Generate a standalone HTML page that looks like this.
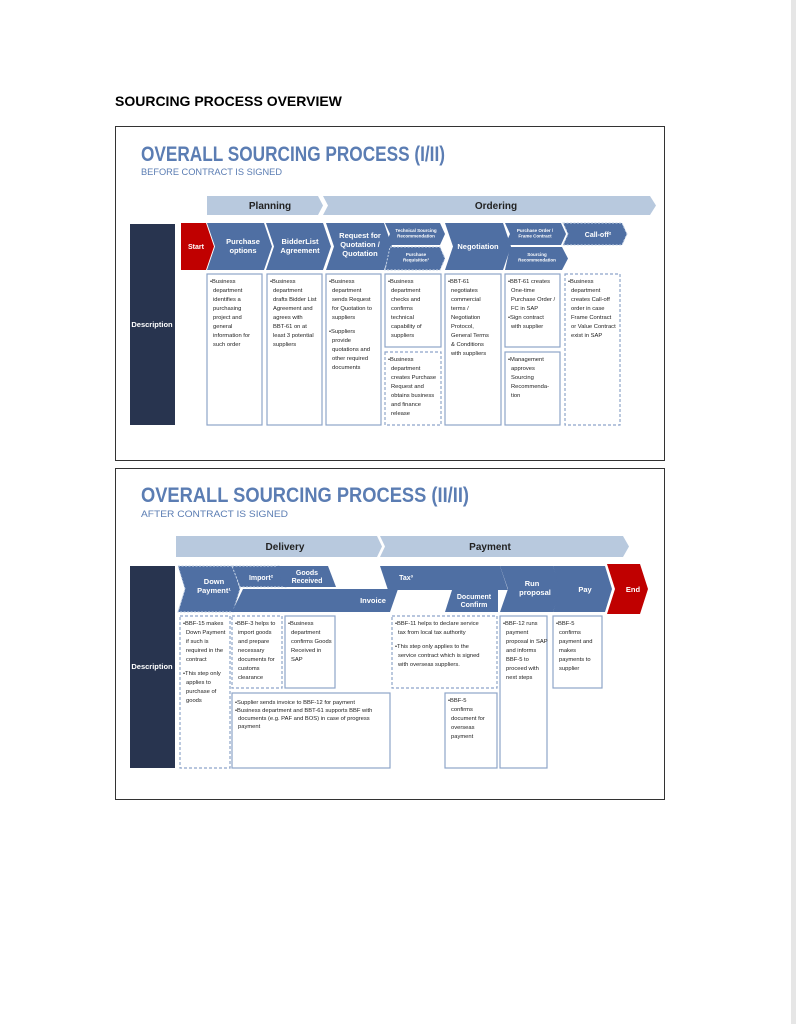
<!DOCTYPE html>
<html><head><style>
html,body{margin:0;padding:0;background:#fff;}
svg{display:block;font-family:"Liberation Sans",sans-serif;}
.t{font-size:5.8px;fill:#222;}
.w{fill:#fff;font-weight:bold;text-anchor:middle;}
.b{fill:none;stroke:#8ea5c9;stroke-width:1.2;}
.d{fill:none;stroke:#8ea5c9;stroke-width:1.2;stroke-dasharray:3 2;}
.c{fill:#4f6fa3;}
.cd{fill:#4f6fa3;stroke:#c5d3e6;stroke-width:1;stroke-dasharray:2 1.5;}
.band{fill:#b8c9de;}
.bl{font-size:10px;font-weight:bold;fill:#222;text-anchor:middle;}
</style></head><body>
<svg width="796" height="1024" viewBox="0 0 796 1024">
<rect x="791" y="0" width="5" height="1024" fill="#e6e6e6"/>
<text x="115" y="106" font-size="14" font-weight="bold" fill="#000">SOURCING PROCESS OVERVIEW</text>

<!-- Panel 1 -->
<rect x="115.5" y="126.5" width="549" height="334" fill="#fff" stroke="#333" stroke-width="1"/>
<text x="141" y="161" font-size="21" font-weight="bold" fill="#5b7db3" textLength="304" lengthAdjust="spacingAndGlyphs">OVERALL SOURCING PROCESS (I/II)</text>
<text x="141" y="175" font-size="9.5" fill="#5b7db3" textLength="141" lengthAdjust="spacingAndGlyphs">BEFORE CONTRACT IS SIGNED</text>
<path class="band" d="M207 196 L318 196 L323 205.5 L318 215 L207 215 Z"/>
<path class="band" d="M323 196 L650 196 L656 205.5 L650 215 L323 215 L328 205.5 Z"/>
<text class="bl" x="270" y="209">Planning</text>
<text class="bl" x="496" y="209">Ordering</text>

<rect x="130" y="224" width="45" height="201" fill="#28344f"/>
<text x="152" y="327" class="w" font-size="7.5">Description</text>
<path fill="#c00000" d="M181 223 L206 223 L214 246.5 L206 270 L181 270 Z"/>
<text x="196" y="249" class="w" font-size="7">Start</text>
<path class="c" d="M207 223 L264 223 L272 246.5 L264 270 L207 270 L215 246.5 Z"/>
<text class="w" font-size="7.5" x="243" y="244">Purchase<tspan x="243" dy="9">options</tspan></text>
<path class="c" d="M266 223 L323 223 L331 246.5 L323 270 L266 270 L274 246.5 Z"/>
<text class="w" font-size="7.5" x="300" y="244">BidderList<tspan x="300" dy="9">Agreement</tspan></text>
<path class="c" d="M326 223 L384 223 L392 246.5 L384 270 L326 270 L334 246.5 Z"/>
<text class="w" font-size="7.5" x="360" y="238">Request for<tspan x="360" dy="9">Quotation /</tspan><tspan x="360" dy="9">Quotation</tspan></text>
<path class="c" d="M385 223 L440 223 L445 234 L440 245 L385 245 L390 234 Z"/>
<text class="w" font-size="4.5" x="416" y="232">Technical Sourcing<tspan x="416" dy="5.5">Recommendation</tspan></text>
<path class="cd" d="M390 247 L440 247 L445 258.5 L440 270 L385 270 Z"/>
<text class="w" font-size="4.5" x="416" y="256">Purchase<tspan x="416" dy="5.5">Requisition¹</tspan></text>
<path class="c" d="M445 223 L503 223 L511 246.5 L503 270 L445 270 L453 246.5 Z"/>
<text class="w" font-size="7.5" x="478" y="249">Negotiation</text>
<path class="c" d="M505 223 L561 223 L566 234 L561 245 L505 245 L510 234 Z"/>
<text class="w" font-size="4.5" x="535" y="232">Purchase Order /<tspan x="535" dy="5.5">Frame Contract</tspan></text>
<path class="c" d="M510 247 L562 247 L568 258.5 L562 270 L505 270 Z"/>
<text class="w" font-size="4.5" x="537" y="256">Sourcing<tspan x="537" dy="5.5">Recommendation</tspan></text>
<path class="cd" d="M563 223 L622 223 L627 234 L622 245 L563 245 L568 234 Z"/>
<text class="w" font-size="7" x="598" y="237">Call-off²</text>

<rect class="b" x="207" y="274" width="55" height="151"/>
<text class="t" x="210" y="283">•Business<tspan x="213" dy="9">department</tspan><tspan x="213" dy="9">identifies a</tspan><tspan x="213" dy="9">purchasing</tspan><tspan x="213" dy="9">project and</tspan><tspan x="213" dy="9">general</tspan><tspan x="213" dy="9">information for</tspan><tspan x="213" dy="9">such order</tspan></text>
<rect class="b" x="267" y="274" width="55" height="151"/>
<text class="t" x="270" y="283">•Business<tspan x="273" dy="9">department</tspan><tspan x="273" dy="9">drafts Bidder List</tspan><tspan x="273" dy="9">Agreement and</tspan><tspan x="273" dy="9">agrees with</tspan><tspan x="273" dy="9">BBT-61 on at</tspan><tspan x="273" dy="9">least 3 potential</tspan><tspan x="273" dy="9">suppliers</tspan></text>
<rect class="b" x="326" y="274" width="55" height="151"/>
<text class="t" x="329" y="283">•Business<tspan x="332" dy="9">department</tspan><tspan x="332" dy="9">sends Request</tspan><tspan x="332" dy="9">for Quotation to</tspan><tspan x="332" dy="9">suppliers</tspan><tspan x="329" dy="14">•Suppliers</tspan><tspan x="332" dy="9">provide</tspan><tspan x="332" dy="9">quotations and</tspan><tspan x="332" dy="9">other required</tspan><tspan x="332" dy="9">documents</tspan></text>
<rect class="b" x="385" y="274" width="56" height="73"/>
<text class="t" x="388" y="283">•Business<tspan x="391" dy="9">department</tspan><tspan x="391" dy="9">checks and</tspan><tspan x="391" dy="9">confirms</tspan><tspan x="391" dy="9">technical</tspan><tspan x="391" dy="9">capability of</tspan><tspan x="391" dy="9">suppliers</tspan></text>
<rect class="d" x="385" y="352" width="56" height="73"/>
<text class="t" x="388" y="361">•Business<tspan x="391" dy="9">department</tspan><tspan x="391" dy="9">creates Purchase</tspan><tspan x="391" dy="9">Request and</tspan><tspan x="391" dy="9">obtains business</tspan><tspan x="391" dy="9">and finance</tspan><tspan x="391" dy="9">release</tspan></text>
<rect class="b" x="445" y="274" width="56" height="151"/>
<text class="t" x="448" y="283">•BBT-61<tspan x="451" dy="9">negotiates</tspan><tspan x="451" dy="9">commercial</tspan><tspan x="451" dy="9">terms /</tspan><tspan x="451" dy="9">Negotiation</tspan><tspan x="451" dy="9">Protocol,</tspan><tspan x="451" dy="9">General Terms</tspan><tspan x="451" dy="9">&amp; Conditions</tspan><tspan x="451" dy="9">with suppliers</tspan></text>
<rect class="b" x="505" y="274" width="55" height="73"/>
<text class="t" x="508" y="283">•BBT-61 creates<tspan x="511" dy="9">One-time</tspan><tspan x="511" dy="9">Purchase Order /</tspan><tspan x="511" dy="9">FC in SAP</tspan><tspan x="508" dy="9">•Sign contract</tspan><tspan x="511" dy="9">with supplier</tspan></text>
<rect class="b" x="505" y="352" width="55" height="73"/>
<text class="t" x="508" y="361">•Management<tspan x="511" dy="9">approves</tspan><tspan x="511" dy="9">Sourcing</tspan><tspan x="511" dy="9">Recommenda-</tspan><tspan x="511" dy="9">tion</tspan></text>
<rect class="d" x="565" y="274" width="55" height="151"/>
<text class="t" x="568" y="283">•Business<tspan x="571" dy="9">department</tspan><tspan x="571" dy="9">creates Call-off</tspan><tspan x="571" dy="9">order in case</tspan><tspan x="571" dy="9">Frame Contract</tspan><tspan x="571" dy="9">or Value Contract</tspan><tspan x="571" dy="9">exist in SAP</tspan></text>

<!-- Panel 2 -->
<rect x="115.5" y="468.5" width="549" height="331" fill="#fff" stroke="#333" stroke-width="1"/>
<text x="141" y="502" font-size="21" font-weight="bold" fill="#5b7db3" textLength="328" lengthAdjust="spacingAndGlyphs">OVERALL SOURCING PROCESS (II/II)</text>
<text x="141" y="517" font-size="9.5" fill="#5b7db3" textLength="147" lengthAdjust="spacingAndGlyphs">AFTER CONTRACT IS SIGNED</text>
<path class="band" d="M176 536 L377 536 L382 546.5 L377 557 L176 557 Z"/>
<path class="band" d="M380 536 L623 536 L629 546.5 L623 557 L380 557 L385 546.5 Z"/>
<text class="bl" x="285" y="550">Delivery</text>
<text class="bl" x="490" y="550">Payment</text>

<rect x="130" y="566" width="45" height="202" fill="#28344f"/>
<text x="152" y="669" class="w" font-size="7.5">Description</text>
<path class="cd" d="M178 566 L233 566 L240 589 L233 612 L178 612 L185 589 Z"/>
<text class="w" font-size="7.5" x="214" y="584">Down<tspan x="214" dy="9">Payment¹</tspan></text>
<path class="cd" d="M232 566 L281 566 L286 587 L240 587 Z"/>
<text class="w" font-size="7" x="261" y="580">Import²</text>
<path class="c" d="M277 566 L328 566 L336 587 L283 587 Z"/>
<text class="w" font-size="7" x="307" y="575">Goods<tspan x="307" dy="8">Received</tspan></text>
<path class="c" d="M243 589 L398 589 L390 612 L232 612 Z"/>
<text class="w" font-size="7.5" x="373" y="603">Invoice</text>
<path class="c" d="M380 566 L500 566 L508 590 L388 590 Z"/>
<text class="w" font-size="7" x="406" y="580">Tax³</text>
<path class="c" d="M452 590 L498 590 L498 612 L445 612 Z"/>
<text class="w" font-size="7" x="474" y="599">Document<tspan x="474" dy="8">Confirm</tspan></text>
<path class="c" d="M500 566 L553 566 L561 589 L553 612 L500 612 L508 589 Z"/>
<text class="w" font-size="7.5" x="532" y="586">Run<tspan x="535" dy="9">proposal</tspan></text>
<path class="c" d="M553 566 L605 566 L612 589 L605 612 L553 612 L560 589 Z"/>
<text class="w" font-size="7.5" x="585" y="592">Pay</text>
<path fill="#c00000" d="M607 564 L640 564 L648 589 L640 614 L607 614 L615 589 Z"/>
<text class="w" font-size="7.5" x="633" y="592">End</text>

<rect class="d" x="180" y="616" width="50" height="152"/>
<text class="t" x="183" y="625">•BBF-15 makes<tspan x="186" dy="9">Down Payment</tspan><tspan x="186" dy="9">if such is</tspan><tspan x="186" dy="9">required in the</tspan><tspan x="186" dy="9">contract</tspan><tspan x="183" dy="14">•This step only</tspan><tspan x="186" dy="9">applies to</tspan><tspan x="186" dy="9">purchase of</tspan><tspan x="186" dy="9">goods</tspan></text>
<rect class="d" x="232" y="616" width="50" height="72"/>
<text class="t" x="235" y="625">•BBF-3 helps to<tspan x="238" dy="9">import goods</tspan><tspan x="238" dy="9">and prepare</tspan><tspan x="238" dy="9">necessary</tspan><tspan x="238" dy="9">documents for</tspan><tspan x="238" dy="9">customs</tspan><tspan x="238" dy="9">clearance</tspan></text>
<rect class="b" x="285" y="616" width="50" height="72"/>
<text class="t" x="288" y="625">•Business<tspan x="291" dy="9">department</tspan><tspan x="291" dy="9">confirms Goods</tspan><tspan x="291" dy="9">Received in</tspan><tspan x="291" dy="9">SAP</tspan></text>
<rect class="b" x="232" y="693" width="158" height="75"/>
<text class="t" x="235" y="704">•Supplier sends invoice to BBF-12 for payment<tspan x="235" dy="8">•Business department and BBT-61 supports BBF with</tspan><tspan x="238" dy="8">documents (e.g. PAF and BOS) in case of progress</tspan><tspan x="238" dy="8">payment</tspan></text>
<rect class="d" x="392" y="616" width="105" height="72"/>
<text class="t" x="395" y="625">•BBF-11 helps to declare service<tspan x="398" dy="9">tax from local tax authority</tspan><tspan x="395" dy="14">•This step only applies to the</tspan><tspan x="398" dy="9">service contract which is signed</tspan><tspan x="398" dy="9">with overseas suppliers.</tspan></text>
<rect class="b" x="445" y="693" width="52" height="75"/>
<text class="t" x="448" y="702">•BBF-5<tspan x="451" dy="9">confirms</tspan><tspan x="451" dy="9">document for</tspan><tspan x="451" dy="9">overseas</tspan><tspan x="451" dy="9">payment</tspan></text>
<rect class="b" x="500" y="616" width="47" height="152"/>
<text class="t" x="503" y="625">•BBF-12 runs<tspan x="506" dy="9">payment</tspan><tspan x="506" dy="9">proposal in SAP</tspan><tspan x="506" dy="9">and informs</tspan><tspan x="506" dy="9">BBF-5 to</tspan><tspan x="506" dy="9">proceed with</tspan><tspan x="506" dy="9">next steps</tspan></text>
<rect class="b" x="553" y="616" width="49" height="72"/>
<text class="t" x="556" y="625">•BBF-5<tspan x="559" dy="9">confirms</tspan><tspan x="559" dy="9">payment and</tspan><tspan x="559" dy="9">makes</tspan><tspan x="559" dy="9">payments to</tspan><tspan x="559" dy="9">supplier</tspan></text>
</svg>
</body></html>
